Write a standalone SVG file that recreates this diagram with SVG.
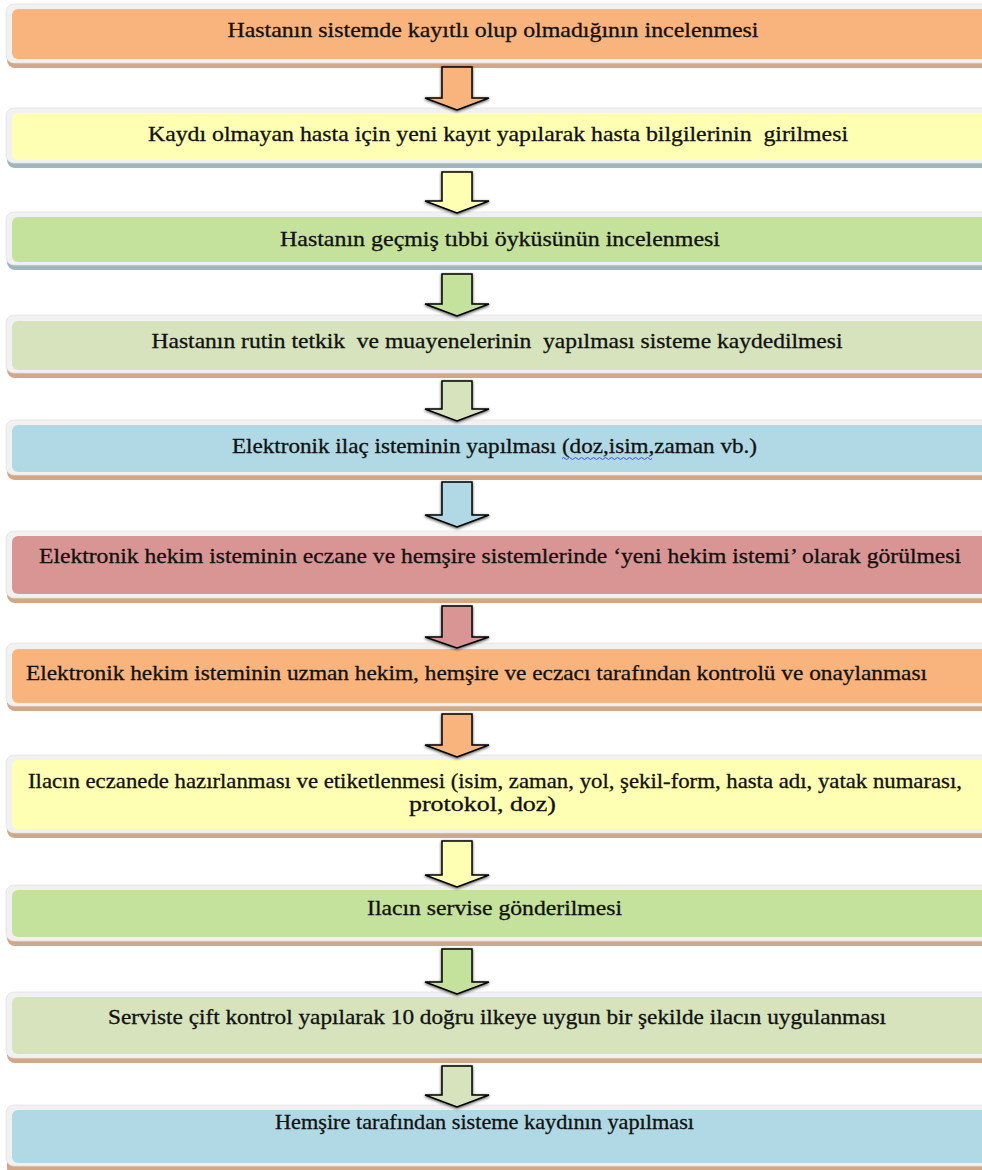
<svg xmlns="http://www.w3.org/2000/svg" width="982" height="1170" viewBox="0 0 982 1170" font-family="Liberation Serif, Times New Roman, serif">
<style>
.frame{fill:#f1f1f1;stroke:#e2e2e2;stroke-width:0.8}
.shb{fill:#d3a685}
.shg{fill:#9fb6bf}
.t{font-size:21px;fill:#111;stroke:#111;stroke-width:0.3;text-anchor:middle}
.arr{stroke:#000;stroke-width:1.5;stroke-linejoin:miter;filter:url(#ds)}
.c1{fill:#f9b47d}.c2{fill:#ffffb3}.c3{fill:#c4e29c}.c4{fill:#d7e3bd}.c5{fill:#b0d9e5}.c6{fill:#d99594}
</style>
<defs>
<filter id="ds" x="-30%" y="-30%" width="160%" height="160%">
<feGaussianBlur in="SourceAlpha" stdDeviation="1.6"/>
<feOffset dx="0" dy="1" result="b"/>
<feComponentTransfer><feFuncA type="linear" slope="0.7"/></feComponentTransfer>
<feMerge><feMergeNode/><feMergeNode in="SourceGraphic"/></feMerge>
</filter>
</defs>
<rect width="982" height="1170" fill="#fff"/>

<g id="n1">
<rect class="shb" x="7" y="9" width="990" height="59" rx="8"/>
<rect class="frame" x="6" y="4" width="990" height="59" rx="8"/>
<rect class="c1" x="12" y="9" width="985" height="50" rx="6"/>
<text class="t" x="493" y="37" textLength="531" lengthAdjust="spacingAndGlyphs">Hastanın sistemde kayıtlı olup olmadığının incelenmesi</text>
</g>
<g id="n2">
<rect class="shg" x="7" y="113" width="990" height="55" rx="8"/>
<rect class="frame" x="6" y="108" width="990" height="55" rx="8"/>
<rect class="c2" x="12" y="113" width="985" height="47" rx="6"/>
<text class="t" x="498" y="141" textLength="700" lengthAdjust="spacingAndGlyphs" style="white-space:pre">Kaydı olmayan hasta için yeni kayıt yapılarak hasta bilgilerinin  girilmesi</text>
</g>
<g id="n3">
<rect class="shg" x="7" y="217" width="990" height="53" rx="8"/>
<rect class="frame" x="6" y="212" width="990" height="53" rx="8"/>
<rect class="c3" x="12" y="217" width="985" height="45" rx="6"/>
<text class="t" x="500" y="246" textLength="440" lengthAdjust="spacingAndGlyphs">Hastanın geçmiş tıbbi öyküsünün incelenmesi</text>
</g>
<g id="n4">
<rect class="shb" x="7" y="320" width="990" height="58" rx="8"/>
<rect class="frame" x="6" y="315" width="990" height="58" rx="8"/>
<rect class="c4" x="12" y="321" width="985" height="49" rx="6"/>
<text class="t" x="497" y="348" textLength="691" lengthAdjust="spacingAndGlyphs" style="white-space:pre">Hastanın rutin tetkik  ve muayenelerinin  yapılması sisteme kaydedilmesi</text>
</g>
<g id="n5">
<rect class="shb" x="7" y="425" width="990" height="55" rx="8"/>
<rect class="frame" x="6" y="420" width="990" height="55" rx="8"/>
<rect class="c5" x="12" y="425" width="985" height="47" rx="6"/>
<text class="t" x="494.5" y="453" textLength="525" lengthAdjust="spacingAndGlyphs">Elektronik ilaç isteminin yapılması (doz,isim,zaman vb.)</text>
<path d="M562 458.5 q1.5 -2 3 0 t3 0 t3 0 t3 0 t3 0 t3 0 t3 0 t3 0 t3 0 t3 0 t3 0 t3 0 t3 0 t3 0 t3 0 t3 0 t3 0 t3 0 t3 0 t3 0 t3 0 t3 0 t3 0 t3 0 t3 0 t3 0 t3 0 t3 0 t3 0 t3 0" fill="none" stroke="#3a3aff" stroke-width="0.9"/>
</g>
<g id="n6">
<rect class="shb" x="7" y="536" width="990" height="67" rx="8"/>
<rect class="frame" x="6" y="531" width="990" height="67" rx="8"/>
<rect class="c6" x="12" y="536" width="985" height="58" rx="6"/>
<text class="t" x="500" y="563" textLength="922" lengthAdjust="spacingAndGlyphs">Elektronik hekim isteminin eczane ve hemşire sistemlerinde ‘yeni hekim istemi’ olarak görülmesi</text>
</g>
<g id="n7">
<rect class="shb" x="7" y="648" width="990" height="63" rx="8"/>
<rect class="frame" x="6" y="643" width="990" height="63" rx="8"/>
<rect class="c1" x="12" y="649" width="985" height="54" rx="6"/>
<text class="t" x="476.5" y="680" textLength="901" lengthAdjust="spacingAndGlyphs">Elektronik hekim isteminin uzman hekim, hemşire ve eczacı tarafından kontrolü ve onaylanması</text>
</g>
<g id="n8">
<rect class="shb" x="7" y="760" width="990" height="78" rx="8"/>
<rect class="frame" x="6" y="755" width="990" height="78" rx="8"/>
<rect class="c2" x="12" y="760" width="985" height="69" rx="6"/>
<text class="t" x="495" y="788" font-size="19" textLength="934" lengthAdjust="spacingAndGlyphs">Ilacın eczanede hazırlanması ve etiketlenmesi (isim, zaman, yol, şekil-form, hasta adı, yatak numarası,</text>
<text class="t" x="482.5" y="811" font-size="19" textLength="147" lengthAdjust="spacingAndGlyphs">protokol, doz)</text>
</g>
<g id="n9">
<rect class="shb" x="7" y="890" width="990" height="56" rx="8"/>
<rect class="frame" x="6" y="885" width="990" height="56" rx="8"/>
<rect class="c3" x="12" y="890" width="985" height="47" rx="6"/>
<text class="t" x="494.5" y="915" textLength="255" lengthAdjust="spacingAndGlyphs">Ilacın servise gönderilmesi</text>
</g>
<g id="n10">
<rect class="shb" x="7" y="997" width="990" height="66" rx="8"/>
<rect class="frame" x="6" y="992" width="990" height="66" rx="8"/>
<rect class="c4" x="12" y="997" width="985" height="57" rx="6"/>
<text class="t" x="497" y="1024" textLength="778" lengthAdjust="spacingAndGlyphs">Serviste çift kontrol yapılarak 10 doğru ilkeye uygun bir şekilde ilacın uygulanması</text>
</g>
<g id="n11">
<rect class="shb" x="7" y="1110" width="990" height="66" rx="8"/>
<rect class="frame" x="6" y="1105" width="990" height="61" rx="8"/>
<rect class="c5" x="12" y="1110" width="985" height="53" rx="6"/>
<text class="t" x="484.5" y="1129" textLength="419" lengthAdjust="spacingAndGlyphs">Hemşire tarafından sisteme kaydının yapılması</text>
</g>

<g id="connectors">
<polygon class="arr c1" points="442,67 472,67 472,98 489,98 457,110 425,98 442,98"/>
<polygon class="arr c2" points="442,172 472,172 472,201 489,201 457,213 425,201 442,201"/>
<polygon class="arr c3" points="442,274 472,274 472,304 489,304 457,316 425,304 442,304"/>
<polygon class="arr c4" points="442,381 472,381 472,409 489,409 457,421 425,409 442,409"/>
<polygon class="arr c5" points="442,482 472,482 472,515 489,515 457,527 425,515 442,515"/>
<polygon class="arr c6" points="442,606 472,606 472,637 489,637 457,648 425,637 442,637"/>
<polygon class="arr c1" points="442,714 472,714 472,745 489,745 457,757 425,745 442,745"/>
<polygon class="arr c2" points="442,841 472,841 472,875 489,875 457,887 425,875 442,875"/>
<polygon class="arr c3" points="442,949 472,949 472,982 489,982 457,994 425,982 442,982"/>
<polygon class="arr c4" points="442,1066 472,1066 472,1095 489,1095 457,1107 425,1095 442,1095"/>
</g>
</svg>
